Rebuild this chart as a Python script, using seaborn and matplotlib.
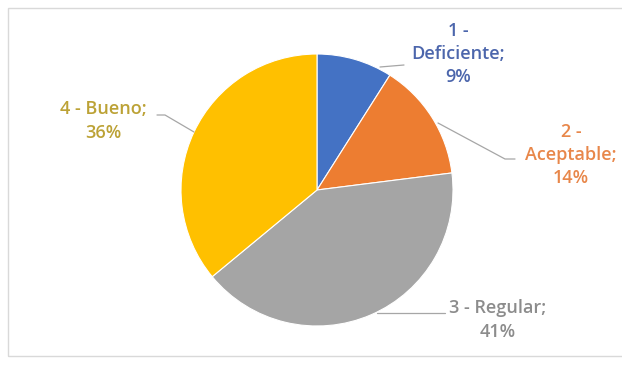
import matplotlib
matplotlib.use("Agg")
import matplotlib.pyplot as plt
import seaborn as sns
from matplotlib.patches import Rectangle

categories = ["1 - Deficiente", "2 - Aceptable", "3 - Regular", "4 - Bueno"]
values = [9, 14, 41, 36]
slice_colors = ["#4472C4", "#ED7D31", "#A5A5A5", "#FFC000"]
label_colors = ["#4C66AC", "#E8874A", "#8C8C8C", "#BCA236"]
label_texts = ["1 -\nDeficiente;\n9%", "2 -\nAceptable;\n14%", "3 - Regular;\n41%", "4 - Bueno;\n36%"]

sns.set_theme(style="white")
plt.rcParams['font.family'] = ['Open Sans', 'DejaVu Sans']

W, H = 622, 366
fig = plt.figure(figsize=(W / 100, H / 100), dpi=100)
ax = fig.add_axes([0, 0, 1, 1])

def py(y):
    return H - y

cx, cy, r = 317, 190, 136
ax.pie(values, colors=slice_colors, startangle=90, counterclock=False,
       center=(cx, py(cy)), radius=r, frame=True,
       wedgeprops=dict(edgecolor="white", linewidth=0.8))
ax.set_xlim(0, W)
ax.set_ylim(0, H)
ax.set_aspect("equal")
ax.axis("off")

# chart border
ax.add_patch(Rectangle((8, py(356)), W, 348, fill=False, edgecolor="#D9D9D9", linewidth=1.0))

# label positions (pixel coords), leader lines
label_pos = [(458, 54), (571, 155), (498, 320), (103, 121)]
line_pts = [
    [(380, 67), (404, 65)],
    [(438, 123), (505, 159), (515, 159)],
    [(377, 313), (445, 313)],
    [(194, 132), (165, 115), (157, 115)],
]
for txt, col, (lx, ly) in zip(label_texts, label_colors, label_pos):
    ax.text(lx, py(ly), txt, color=col, ha="center", va="center",
            fontsize=13, fontweight="semibold", linespacing=1.38)
for pts in line_pts:
    xs = [p[0] for p in pts]
    ys = [py(p[1]) for p in pts]
    ax.plot(xs, ys, color="#A6A6A6", linewidth=0.9)

fig.savefig("out.png", dpi=100)
